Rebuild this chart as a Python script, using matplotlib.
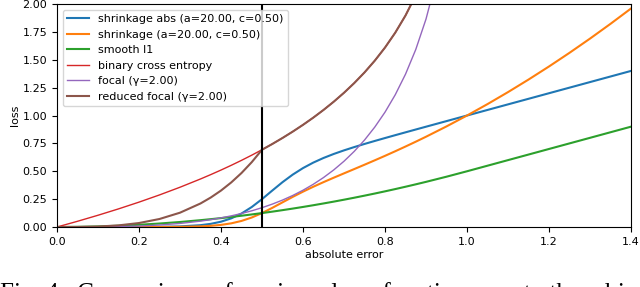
import numpy as np
import matplotlib
matplotlib.use('Agg')
import matplotlib.pyplot as plt

# absolute error grid for the shrinkage / smooth l1 curves
x_err = [0.0, 0.05, 0.1, 0.15, 0.2, 0.25, 0.3, 0.35,
         0.375, 0.4, 0.425, 0.45, 0.475, 0.5, 0.525, 0.55, 0.575, 0.6,
         0.625, 0.65, 0.675, 0.7, 0.725, 0.75, 0.775, 0.8, 0.825, 0.85,
         0.875, 0.9,
         0.95, 1.0, 1.05, 1.1, 1.15, 1.2, 1.25, 1.3, 1.35, 1.4]

shrink_abs = [0.0, 0.0, 0.00003, 0.00014, 0.0005, 0.0017, 0.0054, 0.0166,
              0.0284, 0.0477, 0.0775, 0.1210, 0.1793, 0.25, 0.3268, 0.4021,
              0.4701, 0.5285, 0.5776, 0.6192, 0.6552, 0.6874, 0.7170, 0.7450,
              0.7718, 0.7980, 0.8238, 0.8492, 0.8745, 0.8997,
              0.9499, 1.0, 1.05, 1.1, 1.15, 1.2, 1.25, 1.3, 1.35, 1.4]

shrink_sq = [0.0, 0.0, 0.0, 0.00002, 0.0001, 0.0004, 0.0016, 0.0058,
             0.0107, 0.0191, 0.0329, 0.0545, 0.0852, 0.125, 0.1716, 0.2212,
             0.2703, 0.3171, 0.3610, 0.4025, 0.4423, 0.4812, 0.5198, 0.5587,
             0.5982, 0.6384, 0.6796, 0.7219, 0.7652, 0.8097,
             0.9024, 1.0, 1.1025, 1.21, 1.3225, 1.44, 1.5625, 1.69, 1.8225, 1.96]

smooth_l1 = [0.0, 0.0013, 0.005, 0.0113, 0.02, 0.0313, 0.045, 0.0613,
             0.0703, 0.08, 0.0903, 0.1013, 0.1128, 0.125, 0.1378, 0.1513,
             0.1653, 0.18, 0.1953, 0.2113, 0.2278, 0.245, 0.2628, 0.2813,
             0.3003, 0.32, 0.3403, 0.3613, 0.3828, 0.405,
             0.4513, 0.5, 0.55, 0.6, 0.65, 0.7, 0.75, 0.8, 0.85, 0.9]

# grid for the log based curves (they leave the plot near 0.9)
x_log = [0.0, 0.05, 0.1, 0.15, 0.2, 0.25, 0.3, 0.35,
         0.375, 0.4, 0.425, 0.45, 0.475, 0.5, 0.525, 0.55, 0.575, 0.6,
         0.625, 0.65, 0.675, 0.7, 0.725, 0.75, 0.775, 0.8, 0.825, 0.85,
         0.875, 0.9, 0.925, 0.95]

bce = [0.0, 0.0513, 0.1054, 0.1625, 0.2231, 0.2877, 0.3567, 0.4308,
       0.4700, 0.5108, 0.5534, 0.5978, 0.6444, 0.6931, 0.7444, 0.7985,
       0.8557, 0.9163, 0.9808, 1.0498, 1.1239, 1.2040, 1.2910, 1.3863,
       1.4917, 1.6094, 1.7430, 1.8971, 2.0794, 2.3026, 2.5903, 2.9957]

focal = [0.0, 0.0001, 0.0011, 0.0037, 0.0089, 0.0180, 0.0321, 0.0528,
         0.0661, 0.0817, 0.1000, 0.1211, 0.1454, 0.1733, 0.2052, 0.2415,
         0.2829, 0.3299, 0.3831, 0.4435, 0.5121, 0.5900, 0.6786, 0.7798,
         0.8960, 1.0300, 1.1863, 1.3707, 1.5920, 1.8651, 2.2163, 2.7036]

reduced_focal = [0.0, 0.0005, 0.0042, 0.0146, 0.0357, 0.0719, 0.1284, 0.2111,
                 0.2644, 0.3269, 0.3998, 0.4842, 0.5816, 0.6931, 0.7444, 0.7985,
                 0.8557, 0.9163, 0.9808, 1.0498, 1.1239, 1.2040, 1.2910, 1.3863,
                 1.4917, 1.6094, 1.7430, 1.8971, 2.0794, 2.3026, 2.5903, 2.9957]

threshold = 0.5
# the figure caption below the plot, only its top edge is inside the image
caption = "Fig. 4.  Comparison  of  various  loss  functions  w.r.t.  the  object's  height"

fig = plt.figure(figsize=(6.4, 2.87), dpi=100)
ax = fig.add_axes([0.089, 0.209, 0.897, 0.777])

ax.plot(x_err, shrink_abs, color='tab:blue', lw=1.5, label='shrinkage abs (a=20.00, c=0.50)')
ax.plot(x_err, shrink_sq, color='tab:orange', lw=1.5, label='shrinkage (a=20.00, c=0.50)')
ax.plot(x_err, smooth_l1, color='tab:green', lw=1.5, label='smooth l1')
ax.plot(x_log, bce, color='tab:red', lw=1.0, label='binary cross entropy')
ax.plot(x_log, focal, color='tab:purple', lw=1.0, label='focal (γ=2.00)')
ax.plot(x_log, reduced_focal, color='tab:brown', lw=1.5, label='reduced focal (γ=2.00)')
ax.axvline(threshold, color='black', lw=1.5)

ax.set_xlim(0, 1.4)
ax.set_ylim(0, 2.0)
ax.set_yticks(np.arange(0, 2.01, 0.25))
ax.tick_params(labelsize=8)
ax.set_xlabel('absolute error', fontsize=8, labelpad=2)
ax.set_ylabel('loss', fontsize=8, labelpad=2)
ax.legend(loc='upper left', fontsize=8)

fig.text(0.0, -0.045, caption, family='Liberation Serif', fontsize=18, va='baseline')

fig.savefig('out.png', dpi=100)
